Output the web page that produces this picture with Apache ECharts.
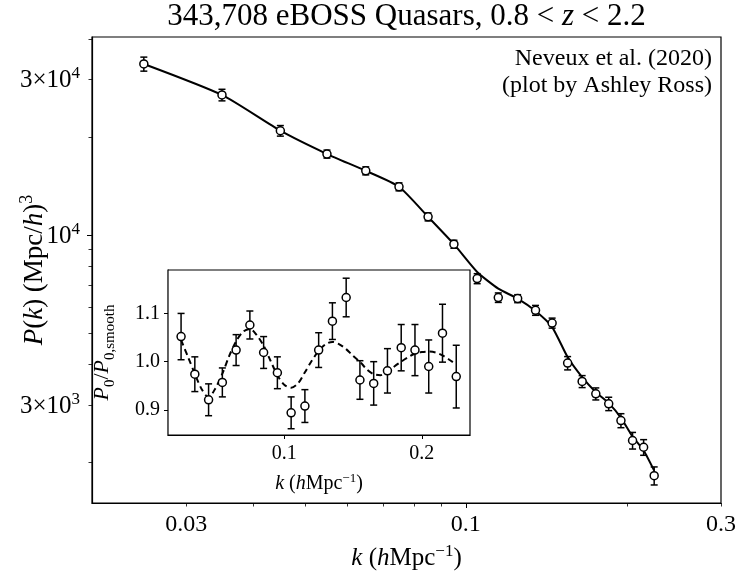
<!DOCTYPE html>
<html><head><meta charset="utf-8">
<script src="https://cdn.jsdelivr.net/npm/echarts@6/dist/echarts.min.js"></script>
<style>html,body{margin:0;padding:0;background:#fff}#c{width:737px;height:573px}</style>
</head><body><div id="c"></div>
<script>
// ---- data ----
const kBins = [0.025,0.035,0.045,0.055,0.065,0.075,0.085,0.095,0.105,0.115,0.125,0.135,0.145,0.155,0.165,0.175,0.185,0.195,0.205,0.215,0.225];
const pkData = [33470,26880,20870,17700,15720,14040,11350,9355,7335,6412,6366,5862,5356,4035,3543,3247,3026,2688,2334,2225,1820];
const pkErr = [1660,1100,780,500,445,395,320,265,260,215,180,205,190,190,150,138,143,133,137,123,116];
const pkModel = [33470,26880,20870,17700,15720,14040,11350,9355,7686,6832,6366,5832,5206,4210,3652,3285,3039,2740,2400,2174,1886];
const ratioData = [1.052,0.974,0.921,0.957,1.024,1.076,1.019,0.977,0.894,0.908,1.024,1.084,1.133,0.962,0.955,0.981,1.029,1.024,0.990,1.059,0.969];
const ratioErr = [0.048,0.036,0.033,0.030,0.032,0.029,0.033,0.033,0.033,0.034,0.036,0.038,0.040,0.040,0.045,0.046,0.048,0.053,0.055,0.060,0.065];
const kFine = [0.025,0.030,0.035,0.040,0.045,0.050,0.055,0.060,0.065,0.070,0.075,0.080,0.085,0.090,0.095,0.100,0.105,0.110,0.115,0.120,0.125,0.130,0.135,0.140,0.145,0.150,0.155,0.160,0.165,0.170,0.175,0.180,0.185,0.190,0.195,0.200,0.205,0.210,0.215,0.220,0.225];
const ratioModel = [1.045,1.010,0.975,0.943,0.926,0.945,0.975,1.012,1.042,1.062,1.068,1.055,1.033,1.002,0.972,0.952,0.946,0.955,0.978,1.002,1.022,1.036,1.041,1.036,1.026,1.012,1.000,0.984,0.974,0.972,0.979,0.990,1.000,1.009,1.017,1.020,1.021,1.019,1.013,1.004,0.994];
const xMainLabels = [0.03, 0.1, 0.3];
const xMainMajor = [0.1];
const xMainMinor = [0.03,0.04,0.05,0.06,0.07,0.08,0.09,0.2,0.3];
const yMainLabels = [3000, 10000, 30000];
const yMainMajor = [10000];
const yMainMinor = [2000,3000,4000,5000,6000,7000,8000,9000,20000,30000,40000];
const xInsetTicks = [0.1, 0.2];
const yInsetTicks = [0.9, 1.0, 1.1];

const FONT = 'Liberation Serif';
const chart = echarts.init(document.getElementById('c'), null, {renderer: 'canvas'});

function errRender(cap, lw) {
  return function (params, api) {
    const x = api.value(0), y = api.value(1), e = api.value(2);
    const t = api.coord([x, y + e]), b = api.coord([x, y - e]);
    const st = {stroke: '#000', lineWidth: lw};
    return {type: 'group', children: [
      {type: 'line', shape: {x1: t[0], y1: t[1], x2: b[0], y2: b[1]}, style: st},
      {type: 'line', shape: {x1: t[0] - cap, y1: t[1], x2: t[0] + cap, y2: t[1]}, style: st},
      {type: 'line', shape: {x1: b[0] - cap, y1: b[1], x2: b[0] + cap, y2: b[1]}, style: st}
    ]};
  };
}

function mkRich(fs, sfs, sp) {
  return {
    n: {fontFamily: FONT, fontSize: fs, color: '#000', verticalAlign: 'bottom'},
    i: {fontFamily: FONT, fontSize: fs, color: '#000', fontStyle: 'italic', verticalAlign: 'bottom'},
    s: {fontFamily: FONT, fontSize: sfs, color: '#000', verticalAlign: 'bottom', padding: [0,0,sp,0]}
  };
}
const rich = mkRich(25, 17, 11);
const richY = mkRich(27, 18, 12);
const richInset = {
  n: {fontFamily: FONT, fontSize: 20, color: '#000', verticalAlign: 'bottom', padding: [0,0,4,0]},
  i: {fontFamily: FONT, fontSize: 20, color: '#000', fontStyle: 'italic', verticalAlign: 'bottom', padding: [0,0,4,0]},
  s: {fontFamily: FONT, fontSize: 13, color: '#000', verticalAlign: 'bottom', padding: [0,0,13,0]}
};
const richInsetY = {
  n: {fontFamily: FONT, fontSize: 22, color: '#000', verticalAlign: 'bottom', padding: [0,0,5,0]},
  i: {fontFamily: FONT, fontSize: 22, color: '#000', fontStyle: 'italic', verticalAlign: 'bottom', padding: [0,0,5,0]},
  b: {fontFamily: FONT, fontSize: 15, color: '#000', verticalAlign: 'bottom'}
};

function yMainFmt(v) {
  const e = Math.round(Math.log10(v));
  const m = Math.round(v / Math.pow(10, e));
  return (m === 1 ? '{n|10}' : '{n|' + m + '×10}') + '{s|' + e + '}';
}

const option = {
  animation: false,
  backgroundColor: '#fff',
  grid: [
    {left: 92, top: 37, width: 629, height: 466, show: true, borderColor: '#000', borderWidth: 1.2,
     backgroundColor: 'transparent', z: 0, containLabel: false, outerBoundsMode: 'none'},
    {left: 168, top: 270, width: 302, height: 165, show: true, borderColor: '#000', borderWidth: 1.2,
     backgroundColor: '#fff', z: 5, containLabel: false, outerBoundsMode: 'none'}
  ],
  xAxis: [
    {type: 'log', logBase: 10, gridIndex: 0, min: 0.02, max: 0.3,
     axisLine: {show: true, lineStyle: {color: '#000', width: 1.2}},
     axisTick: {show: true, customValues: xMainMajor, length: 5, lineStyle: {color: '#000', width: 1}},
     axisLabel: {customValues: xMainLabels, margin: 10, fontFamily: FONT, fontSize: 24, color: '#000',
                 formatter: v => String(+(+v).toPrecision(3))},
     splitLine: {show: false},
     name: '{i|k}{n| (}{i|h}{n|Mpc}{s|−1}{n|)}', nameLocation: 'middle', nameGap: 40, nameMoveOverlap: false,
     nameTextStyle: {rich: rich}},
    {type: 'log', logBase: 10, gridIndex: 0, min: 0.02, max: 0.3, position: 'bottom',
     axisLine: {show: false}, axisLabel: {show: false}, splitLine: {show: false},
     axisTick: {show: true, customValues: xMainMinor, length: 3.5, lineStyle: {color: '#000', width: 0.8}}},
    {type: 'value', gridIndex: 1, min: 0.0155, max: 0.235,
     axisLine: {show: true, lineStyle: {color: '#000', width: 1.2}},
     axisTick: {show: true, customValues: xInsetTicks, length: 4, lineStyle: {color: '#000', width: 1}},
     axisLabel: {customValues: xInsetTicks, margin: 9, fontFamily: FONT, fontSize: 20, color: '#000',
                 formatter: v => (+v).toFixed(1)},
     splitLine: {show: false},
     name: '{i|k}{n| (}{i|h}{n|Mpc}{s|−1}{n|)}', nameLocation: 'middle', nameGap: 37, nameMoveOverlap: false,
     nameTextStyle: {rich: richInset}}
  ],
  yAxis: [
    {type: 'log', logBase: 10, gridIndex: 0, min: 1500, max: 40500,
     axisLine: {show: true, lineStyle: {color: '#000', width: 1.2}},
     axisTick: {show: true, customValues: yMainMajor, length: 5, lineStyle: {color: '#000', width: 1}},
     axisLabel: {customValues: yMainLabels, margin: 12, formatter: yMainFmt, rich: rich},
     splitLine: {show: false},
     name: '{i|P}{n|(}{i|k}{n|) (Mpc/}{i|h}{n|)}{s|3}', nameLocation: 'middle', nameGap: 44, nameRotate: 90,
     nameMoveOverlap: false, nameTextStyle: {rich: richY}},
    {type: 'log', logBase: 10, gridIndex: 0, min: 1500, max: 40500, position: 'left',
     axisLine: {show: false}, axisLabel: {show: false}, splitLine: {show: false},
     axisTick: {show: true, customValues: yMainMinor, length: 3.5, lineStyle: {color: '#000', width: 0.8}}},
    {type: 'value', gridIndex: 1, min: 0.848, max: 1.19,
     axisLine: {show: true, lineStyle: {color: '#000', width: 1.2}},
     axisTick: {show: true, customValues: yInsetTicks, length: 4, lineStyle: {color: '#000', width: 1}},
     axisLabel: {customValues: yInsetTicks, margin: 8, fontFamily: FONT, fontSize: 20, color: '#000',
                 formatter: v => (+v).toFixed(1)},
     splitLine: {show: false},
     name: '{i|P}{b|0}{n|/}{i|P}{b|0,smooth}', nameLocation: 'middle', nameGap: 50, nameRotate: 90,
     nameMoveOverlap: false, nameTextStyle: {rich: richInsetY}}
  ],
  graphic: [
    {type: 'text', style: {
      text: '{n|343,708 eBOSS Quasars, 0.8 < }{i|z}{n| < 2.2}', x: 406.5, y: 17, align: 'center', verticalAlign: 'middle',
      rich: {n: {fontFamily: FONT, fontSize: 31, color: '#000'}, i: {fontFamily: FONT, fontSize: 31, fontStyle: 'italic', color: '#000'}}}},
    {type: 'text', style: {text: 'Neveux et al. (2020)\n(plot by Ashley Ross)', x: 712, y: 45, align: 'right', verticalAlign: 'top',
      fontFamily: FONT, fontSize: 24, lineHeight: 27, fill: '#000'}}
  ],
  series: [
    {type: 'line', xAxisIndex: 0, yAxisIndex: 0, data: kBins.map((k, i) => [k, pkModel[i]]),
     showSymbol: false, smooth: 0.2, lineStyle: {color: '#000', width: 2}, z: 2, silent: true},
    {type: 'custom', xAxisIndex: 0, yAxisIndex: 0, data: kBins.map((k, i) => [k, pkData[i], pkErr[i]]),
     encode: {x: 0, y: 1}, renderItem: errRender(3.5, 1.5), z: 3, silent: true},
    {type: 'scatter', xAxisIndex: 0, yAxisIndex: 0, data: kBins.map((k, i) => [k, pkData[i]]),
     symbol: 'circle', symbolSize: 8, itemStyle: {color: '#fff', borderColor: '#000', borderWidth: 1.5, opacity: 1}, z: 4, silent: true},
    {type: 'line', xAxisIndex: 2, yAxisIndex: 2, data: kFine.map((k, i) => [k, ratioModel[i]]),
     showSymbol: false, smooth: 0.3, lineStyle: {color: '#000', width: 2, type: [6, 4]}, z: 6, silent: true},
    {type: 'custom', xAxisIndex: 2, yAxisIndex: 2, data: kBins.map((k, i) => [k, ratioData[i], ratioErr[i]]),
     encode: {x: 0, y: 1}, renderItem: errRender(3.5, 1.5), z: 7, silent: true},
    {type: 'scatter', xAxisIndex: 2, yAxisIndex: 2, data: kBins.map((k, i) => [k, ratioData[i]]),
     symbol: 'circle', symbolSize: 8, itemStyle: {color: '#fff', borderColor: '#000', borderWidth: 1.5, opacity: 1}, z: 8, silent: true}
  ]
};
chart.setOption(option);
</script></body></html>
